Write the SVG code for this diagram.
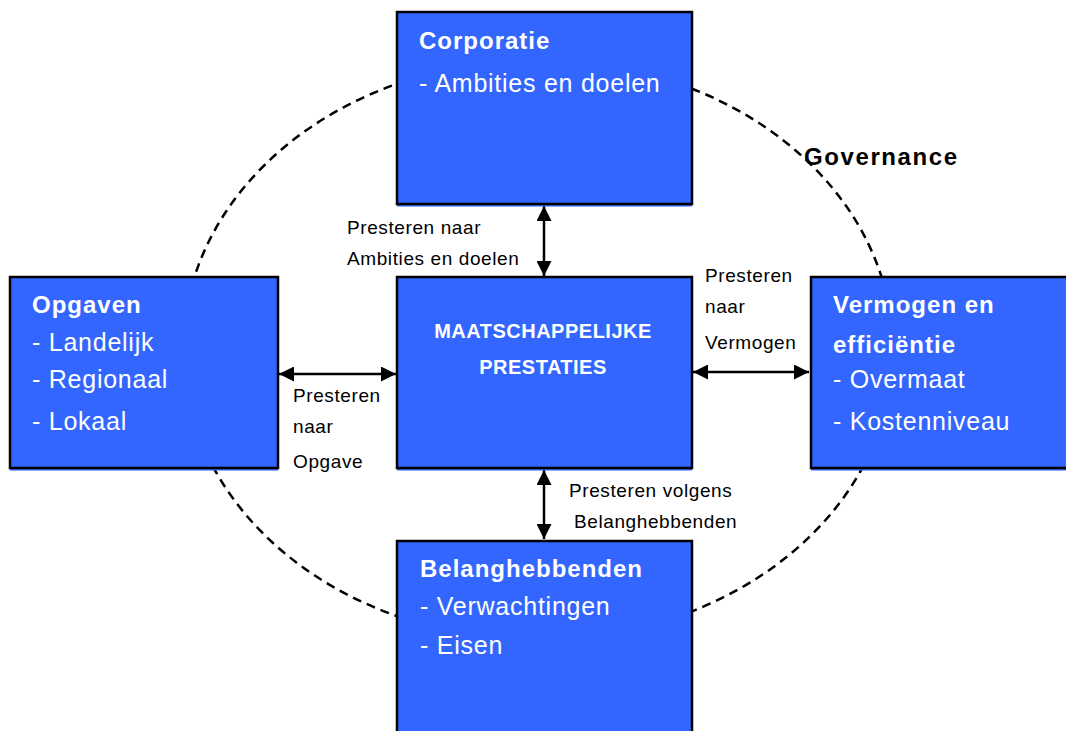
<svg xmlns="http://www.w3.org/2000/svg" width="1066" height="731" viewBox="0 0 1066 731">
<style>
.shadow{fill:#3366FF;}
.box{fill:#3366FF;stroke:#000;stroke-width:2.5;}
.title{font-family:"Liberation Sans",Arial,sans-serif;font-weight:bold;font-size:24px;fill:#fff;letter-spacing:1px;}
.body{font-family:"Liberation Sans",Arial,sans-serif;font-size:25px;fill:#fff;letter-spacing:0.75px;}
.center{font-family:"Liberation Sans",Arial,sans-serif;font-weight:bold;font-size:20px;fill:#fff;letter-spacing:0.5px;text-anchor:middle;}
.lbl{font-family:"Liberation Sans",Arial,sans-serif;font-size:19px;fill:#000;letter-spacing:0.6px;}
.gov{font-family:"Liberation Sans",Arial,sans-serif;font-weight:bold;font-size:24px;fill:#000;letter-spacing:1.6px;}
.conn{stroke:#000;stroke-width:2.5;fill:none;marker-start:url(#ah);marker-end:url(#ah);}
</style>
<defs>
<marker id="ah" viewBox="0 0 10 10" refX="10" refY="5" markerWidth="6" markerHeight="6" orient="auto-start-reverse" markerUnits="strokeWidth">
<path d="M0,0 L10,5 L0,10 Z" fill="#000"/>
</marker>
</defs>
<rect width="1066" height="731" fill="#fff"/>
<ellipse cx="538" cy="350" rx="355" ry="290" fill="none" stroke="#000" stroke-width="2.5" stroke-dasharray="9,6"/>
<text class="gov" x="804" y="165">Governance</text>
<g id="connectors">
<line class="conn" x1="544" y1="206" x2="544" y2="276"/>
<line class="conn" x1="544" y1="470" x2="544" y2="539"/>
<line class="conn" x1="279" y1="374" x2="396" y2="374"/>
<line class="conn" x1="693" y1="372" x2="809" y2="372"/>
<text class="lbl" x="347" y="234">Presteren naar</text>
<text class="lbl" x="347" y="265">Ambities en doelen</text>
<text class="lbl" x="705" y="282">Presteren</text>
<text class="lbl" x="705" y="313">naar</text>
<text class="lbl" x="705" y="349">Vermogen</text>
<text class="lbl" x="293" y="402">Presteren</text>
<text class="lbl" x="293" y="433">naar</text>
<text class="lbl" x="293" y="468">Opgave</text>
<text class="lbl" x="569" y="497">Presteren volgens</text>
<text class="lbl" x="574" y="528">Belanghebbenden</text>
</g>
<g id="corporatie">
<rect class="shadow" x="397" y="14.5" width="295" height="192"/>
<rect class="box" x="397" y="12" width="295" height="192"/>
<text class="title" x="419" y="49">Corporatie</text>
<text class="body" x="419" y="92">- Ambities en doelen</text>
</g>
<g id="maatschappelijk">
<rect class="shadow" x="397" y="279.5" width="295" height="191"/>
<rect class="box" x="397" y="277" width="295" height="191"/>
<text class="center" x="543" y="338">MAATSCHAPPELIJKE</text>
<text class="center" x="543" y="374">PRESTATIES</text>
</g>
<g id="opgaven">
<rect class="shadow" x="10" y="279.5" width="268" height="191"/>
<rect class="box" x="10" y="277" width="268" height="191"/>
<text class="title" x="32" y="313">Opgaven</text>
<text class="body" x="32" y="351">- Landelijk</text>
<text class="body" x="32" y="388">- Regionaal</text>
<text class="body" x="32" y="430">- Lokaal</text>
</g>
<g id="vermogen">
<rect class="shadow" x="811" y="279.5" width="270" height="191"/>
<rect class="box" x="811" y="277" width="270" height="191"/>
<text class="title" x="833" y="313">Vermogen en</text>
<text class="title" x="833" y="353">efficiëntie</text>
<text class="body" x="833" y="388">- Overmaat</text>
<text class="body" x="833" y="430">- Kostenniveau</text>
</g>
<g id="belanghebbenden">
<rect class="box" x="397" y="541" width="295" height="200"/>
<text class="title" x="420" y="577">Belanghebbenden</text>
<text class="body" x="420" y="615">- Verwachtingen</text>
<text class="body" x="420" y="654">- Eisen</text>
</g>
</svg>
